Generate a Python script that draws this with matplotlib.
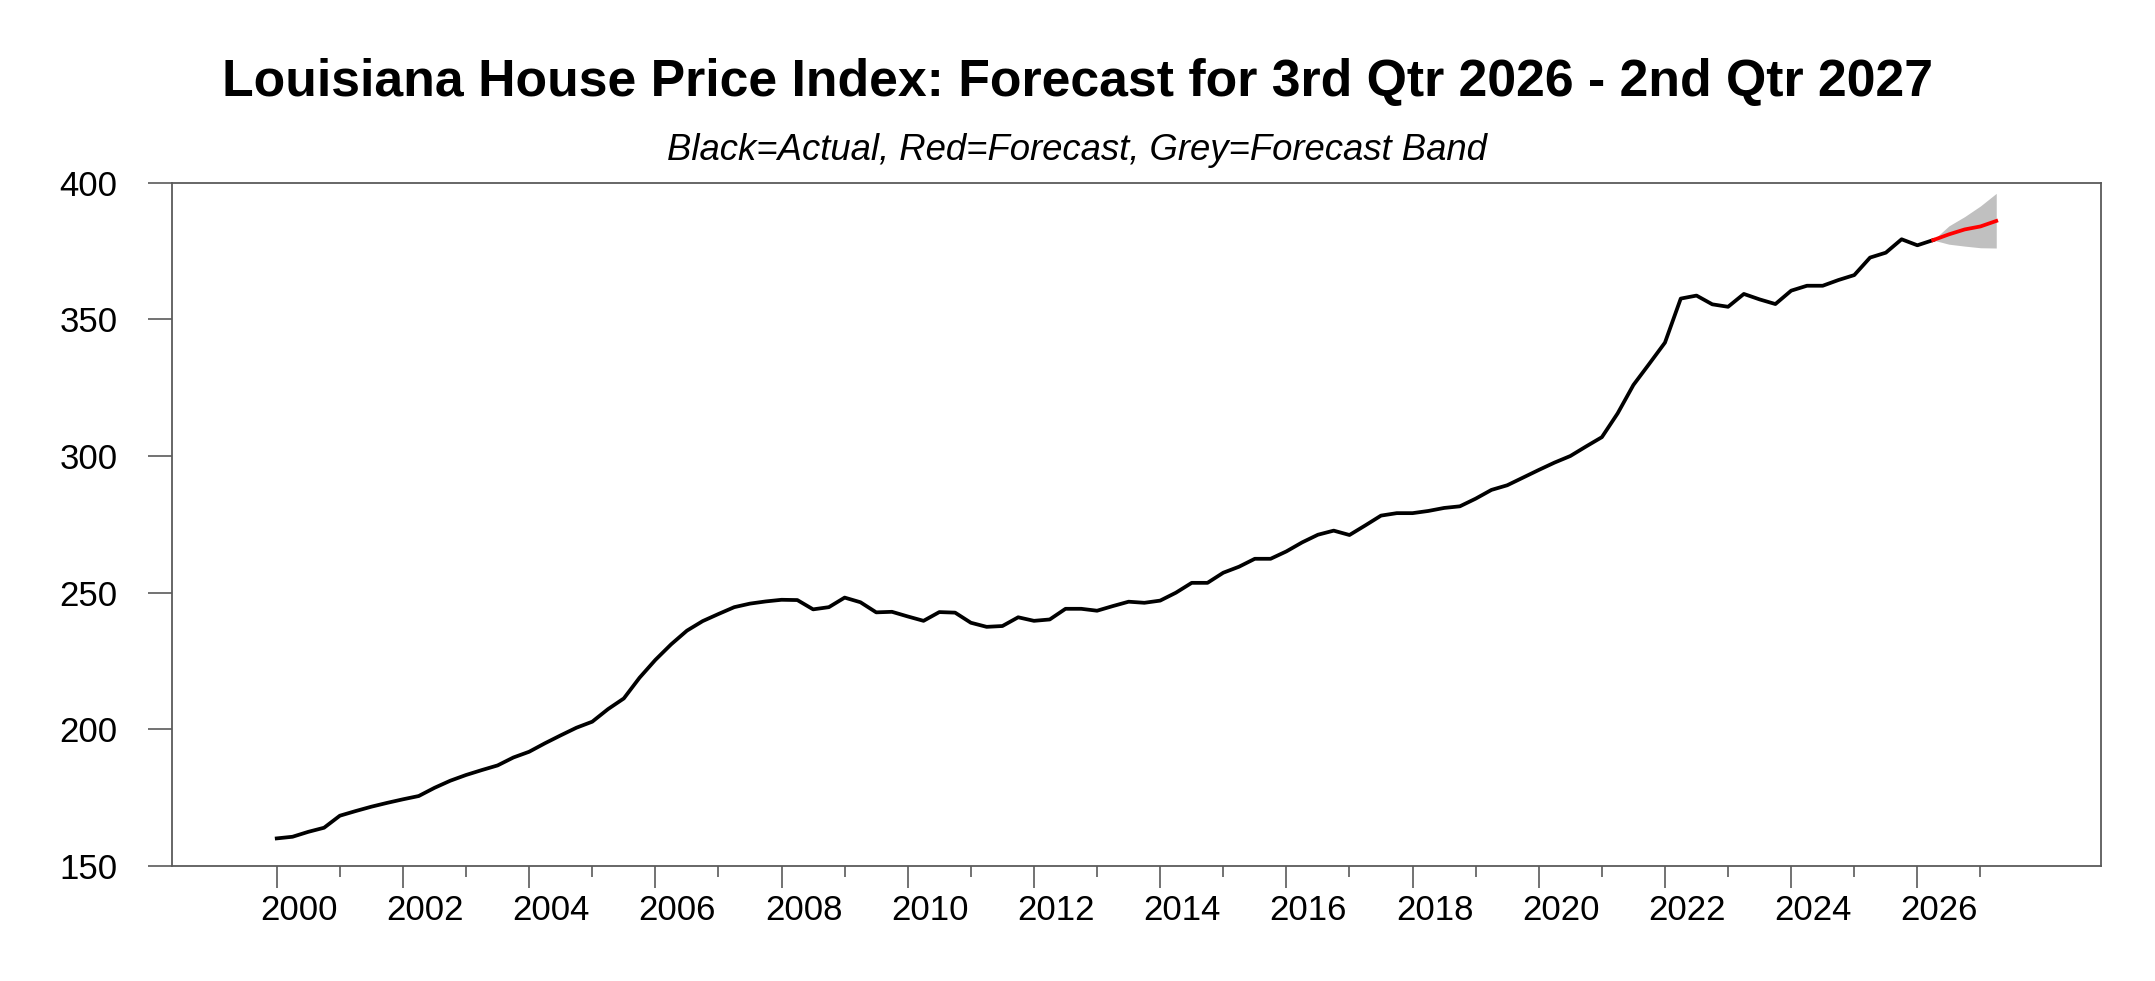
import numpy as np
import matplotlib
matplotlib.use("Agg")
import matplotlib.pyplot as plt
from matplotlib.ticker import FixedLocator
from matplotlib.transforms import ScaledTranslation

plt.rcParams['font.family'] = ['Liberation Sans', 'DejaVu Sans']

# ---- data (quarterly, 2000Q1 .. 2026Q2) ----
start_year = 2000
actual = [
    160.1, 160.7, 162.5, 164.0, 168.4, 170.1, 171.7, 173.1, 174.4, 175.6,
    178.6, 181.2, 183.3, 185.1, 186.8, 189.7, 191.8, 194.9, 197.8, 200.6,
    202.8, 207.4, 211.3, 218.9, 225.4, 231.1, 236.1, 239.6, 242.2, 244.7,
    246.0, 246.8, 247.4, 247.3, 243.9, 244.7, 248.2, 246.5, 242.8, 243.0,
    241.3, 239.7, 242.9, 242.7, 239.0, 237.5, 237.8, 241.0, 239.7, 240.2,
    244.1, 244.1, 243.4, 245.1, 246.7, 246.3, 247.1, 250.0, 253.6, 253.6,
    257.3, 259.5, 262.4, 262.4, 265.1, 268.4, 271.2, 272.7, 271.1, 274.6,
    278.2, 279.1, 279.1, 279.9, 281.0, 281.6, 284.4, 287.6, 289.3, 292.1,
    294.9, 297.6, 300.0, 303.5, 306.9, 315.6, 326.0, 333.7, 341.5, 357.6,
    358.7, 355.5, 354.6, 359.3, 357.3, 355.6, 360.5, 362.3, 362.3, 364.4,
    366.2, 372.6, 374.4, 379.3, 377.1, 379.0,
]
# forecast 2026Q2 (last actual) .. 2027Q2
forecast = [379.0, 381.1, 382.9, 384.0, 386.0]
band_upper = [379.0, 384.2, 387.6, 391.5, 396.1]
band_lower = [379.0, 377.5, 376.8, 376.2, 376.1]

year_ticks_major = list(range(2000, 2027, 2))
year_ticks_minor = list(range(2001, 2028, 2))
y_ticks = [150, 200, 250, 300, 350, 400]

title = "Louisiana House Price Index: Forecast for 3rd Qtr 2026 - 2nd Qtr 2027"
subtitle = "Black=Actual, Red=Forecast, Grey=Forecast Band"

# ---- positions ----
x_act = start_year + np.arange(len(actual)) / 4.0
x_fc = x_act[-1] + np.arange(len(forecast)) / 4.0

fig = plt.figure(figsize=(21.55, 9.81), dpi=100)
ax = fig.add_axes([172 / 2155, 1 - 866 / 981, (2101 - 172) / 2155, (866 - 182.7) / 981])

ax.fill_between(x_fc, band_lower, band_upper, color='#c0c0c0', linewidth=0, zorder=1)
ax.plot(x_act, actual, color='black', linewidth=2.7, zorder=3)
ax.plot(x_fc, forecast, color='#ff0000', linewidth=2.7, zorder=4)

ax.set_xlim(1998.34, 2028.91)
ax.set_ylim(150, 400)

spine_col = '#5a5a5a'
for s in ax.spines.values():
    s.set_color(spine_col)
    s.set_linewidth(1.3)

ax.yaxis.set_major_locator(FixedLocator(y_ticks))
ax.set_yticklabels([str(v) for v in y_ticks])
ax.xaxis.set_major_locator(FixedLocator(year_ticks_major))
ax.xaxis.set_minor_locator(FixedLocator(year_ticks_minor))
ax.set_xticklabels([str(v) for v in year_ticks_major])

ax.tick_params(axis='y', which='major', direction='out', length=17.3, width=1.2,
               color=spine_col, pad=22, labelsize=25)
ax.tick_params(axis='x', which='major', direction='out', length=16, width=1.2,
               color=spine_col, pad=4, labelsize=25)
ax.tick_params(axis='x', which='minor', direction='out', length=8, width=1.2,
               color=spine_col)

offset = ScaledTranslation(22 / 100, 0, fig.dpi_scale_trans)
for lab in ax.get_xticklabels():
    lab.set_transform(lab.get_transform() + offset)

fig.text(1077 / 2155, 1 - 83 / 981, title, ha='center', va='center',
         fontsize=37.3, fontweight='bold')
fig.text(1077 / 2155, 1 - 150 / 981, subtitle, ha='center', va='center',
         fontsize=26.3, fontstyle='italic')

fig.savefig('out.png', dpi=100, facecolor='white')
